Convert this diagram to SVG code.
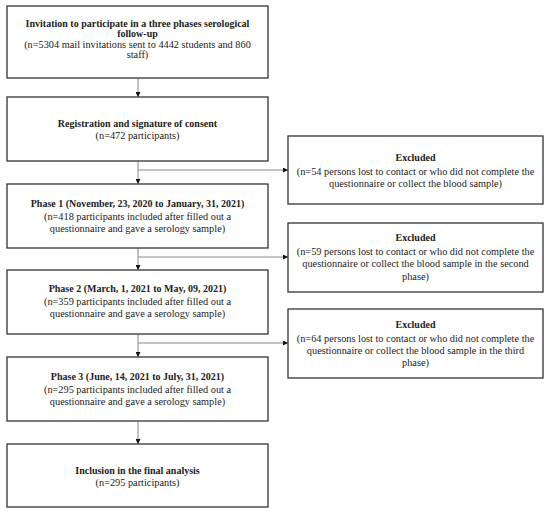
<svg xmlns="http://www.w3.org/2000/svg" width="550" height="514" viewBox="0 0 550 514">
<defs>
<marker id="ah" viewBox="0 0 10 10" refX="10" refY="5" markerWidth="5" markerHeight="5" orient="auto" markerUnits="userSpaceOnUse">
<path d="M0,0 L10,5 L0,10 z" fill="#111"/>
</marker>
<style>
.box{fill:#fff;stroke:#333;stroke-width:1.3}
.ln{fill:none;stroke:#888;stroke-width:1}
text{font-family:"Liberation Serif","DejaVu Serif",serif;font-size:10.3px;fill:#222;text-anchor:middle}
.b{font-weight:bold;font-size:10px}
</style>
</defs>
<rect width="550" height="514" fill="#fff"/>
<g id="connectors">
<path class="ln" d="M138,78 V97" marker-end="url(#ah)"/>
<path class="ln" d="M138,161 V184" marker-end="url(#ah)"/>
<path class="ln" d="M138,170 H288" marker-end="url(#ah)"/>
<path class="ln" d="M138,248 V270" marker-end="url(#ah)"/>
<path class="ln" d="M138,257 H288" marker-end="url(#ah)"/>
<path class="ln" d="M138,334 V357" marker-end="url(#ah)"/>
<path class="ln" d="M138,343 H288" marker-end="url(#ah)"/>
<path class="ln" d="M138,421 V444" marker-end="url(#ah)"/>
</g>
<g id="invitation">
<rect class="box" x="7" y="6" width="261" height="72"/>
<text class="b" x="137.5" y="27">Invitation to participate in a three phases serological</text>
<text class="b" x="137.5" y="37">follow-up</text>
<text x="137.5" y="48">(n=5304 mail invitations sent to 4442 students and 860</text>
<text x="137.5" y="58">staff)</text>
</g>
<g id="registration">
<rect class="box" x="7" y="97" width="261" height="64"/>
<text class="b" x="137.5" y="127">Registration and signature of consent</text>
<text x="137.5" y="139">(n=472 participants)</text>
</g>
<g id="phase1">
<rect class="box" x="7" y="184" width="261" height="64"/>
<text class="b" x="137.5" y="207">Phase 1 (November, 23, 2020 to January, 31, 2021)</text>
<text x="137.5" y="220">(n=418 participants included after filled out a</text>
<text x="137.5" y="232">questionnaire and gave a serology sample)</text>
</g>
<g id="phase2">
<rect class="box" x="7" y="270" width="261" height="64"/>
<text class="b" x="137.5" y="292">Phase 2 (March, 1, 2021 to May, 09, 2021)</text>
<text x="137.5" y="305">(n=359 participants included after filled out a</text>
<text x="137.5" y="317">questionnaire and gave a serology sample)</text>
</g>
<g id="phase3">
<rect class="box" x="7" y="357" width="261" height="64"/>
<text class="b" x="137.5" y="380">Phase 3 (June, 14, 2021 to July, 31, 2021)</text>
<text x="137.5" y="393">(n=295 participants included after filled out a</text>
<text x="137.5" y="405">questionnaire and gave a serology sample)</text>
</g>
<g id="final">
<rect class="box" x="7" y="444" width="261" height="63"/>
<text class="b" x="137.5" y="474">Inclusion in the final analysis</text>
<text x="137.5" y="486">(n=295 participants)</text>
</g>
<g id="excluded1">
<rect class="box" x="288" y="136" width="255" height="68"/>
<text class="b" x="415.5" y="161">Excluded</text>
<text x="415.5" y="175">(n=54 persons lost to contact or who did not complete the</text>
<text x="415.5" y="187">questionnaire or collect the blood sample)</text>
</g>
<g id="excluded2">
<rect class="box" x="288" y="223" width="255" height="69"/>
<text class="b" x="415.5" y="241">Excluded</text>
<text x="415.5" y="255">(n=59 persons lost to contact or who did not complete the</text>
<text x="415.5" y="267">questionnaire or collect the blood sample in the second</text>
<text x="415.5" y="280">phase)</text>
</g>
<g id="excluded3">
<rect class="box" x="288" y="309" width="255" height="69"/>
<text class="b" x="415.5" y="328">Excluded</text>
<text x="415.5" y="342">(n=64 persons lost to contact or who did not complete the</text>
<text x="415.5" y="354">questionnaire or collect the blood sample in the third</text>
<text x="415.5" y="366">phase)</text>
</g>
</svg>
